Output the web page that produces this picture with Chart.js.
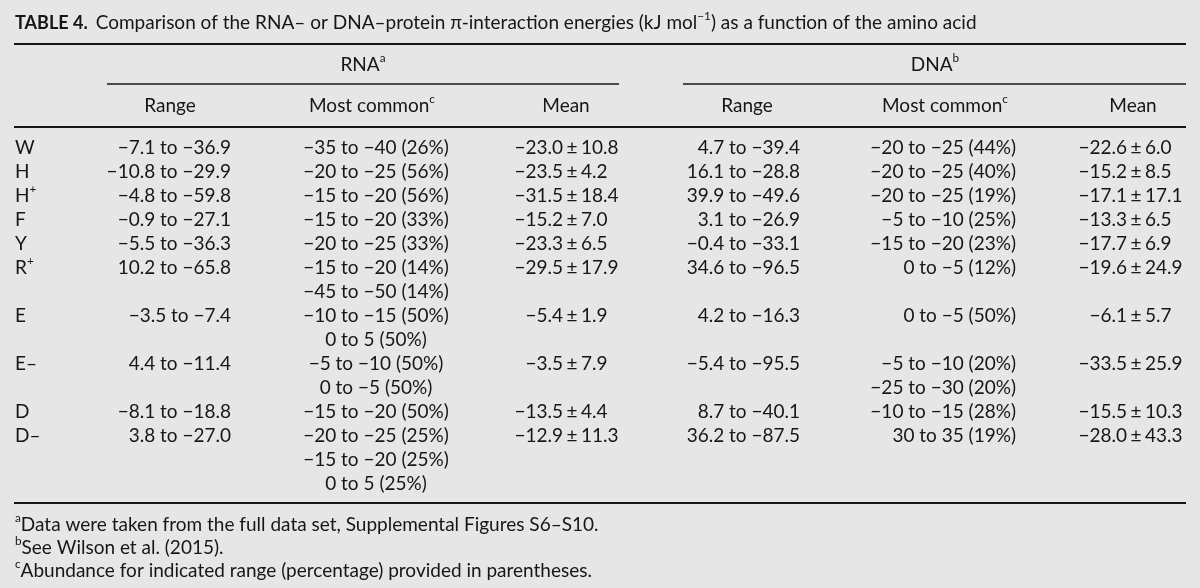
<!DOCTYPE html>
<html>
<head>
<meta charset="utf-8">
<title>Table 4</title>
<script src="https://cdn.jsdelivr.net/npm/chart.js@4"></script>
<style>
    html, body { margin: 0; padding: 0; background: #e6e6e6; }
    #wrap { width: 1200px; height: 588px; }
</style>
</head>
<body>
<div id="wrap"><canvas id="energyTable" width="1200" height="588"></canvas></div>
<script>
// Table content
const caption = ['TABLE 4.', 'Comparison of the RNA– or DNA–protein π-interaction energies (kJ mol^{−1}) as a function of the amino acid'];
const groupLabels = ['RNA^{a}', 'DNA^{b}'];
const columnLabels = ['Range', 'Most common^{c}', 'Mean'];
const aminoAcids = ['W', 'H', 'H^{+}', 'F', 'Y', 'R^{+}', 'E', 'E–', 'D', 'D–'];

// [from, to] in kJ/mol
const rnaRange = [[-7.1, -36.9], [-10.8, -29.9], [-4.8, -59.8], [-0.9, -27.1], [-5.5, -36.3],
                  [10.2, -65.8], [-3.5, -7.4], [4.4, -11.4], [-8.1, -18.8], [3.8, -27.0]];
const dnaRange = [[4.7, -39.4], [16.1, -28.8], [39.9, -49.6], [3.1, -26.9], [-0.4, -33.1],
                  [34.6, -96.5], [4.2, -16.3], [-5.4, -95.5], [8.7, -40.1], [36.2, -87.5]];

// most common bins: [from, to, percent]
const rnaCommon = [
    [[-35, -40, 26]],
    [[-20, -25, 56]],
    [[-15, -20, 56]],
    [[-15, -20, 33]],
    [[-20, -25, 33]],
    [[-15, -20, 14], [-45, -50, 14]],
    [[-10, -15, 50], [0, 5, 50]],
    [[-5, -10, 50], [0, -5, 50]],
    [[-15, -20, 50]],
    [[-20, -25, 25], [-15, -20, 25], [0, 5, 25]]
];
const dnaCommon = [
    [[-20, -25, 44]],
    [[-20, -25, 40]],
    [[-20, -25, 19]],
    [[-5, -10, 25]],
    [[-15, -20, 23]],
    [[0, -5, 12]],
    [[0, -5, 50]],
    [[-5, -10, 20], [-25, -30, 20]],
    [[-10, -15, 28]],
    [[30, 35, 19]]
];

// [mean, sd]
const rnaMean = [[-23.0, 10.8], [-23.5, 4.2], [-31.5, 18.4], [-15.2, 7.0], [-23.3, 6.5],
                 [-29.5, 17.9], [-5.4, 1.9], [-3.5, 7.9], [-13.5, 4.4], [-12.9, 11.3]];
const dnaMean = [[-22.6, 6.0], [-15.2, 8.5], [-17.1, 17.1], [-13.3, 6.5], [-17.7, 6.9],
                 [-19.6, 24.9], [-6.1, 5.7], [-33.5, 25.9], [-15.5, 10.3], [-28.0, 43.3]];

const footnotes = [
    '^{a}Data were taken from the full data set, Supplemental Figures S6–S10.',
    '^{b}See Wilson et al. (2015).',
    '^{c}Abundance for indicated range (percentage) provided in parentheses.'
];

const FONT = 'Lato, "Open Sans", sans-serif';
const INK = '#161616';

const fmt = (v, d) => (v < 0 ? '−' : '') + Math.abs(v).toFixed(d);
const rangeText = r => fmt(r[0], 1) + ' to ' + fmt(r[1], 1);
const binText = b => fmt(b[0], 0) + ' to ' + fmt(b[1], 0) + ' (' + b[2] + '%)';

// split 'abc^{x}def' into [text, isSup] pieces
function pieces(str) {
    const out = [];
    const re = /\^\{([^}]*)\}/g;
    let last = 0, m;
    while ((m = re.exec(str)) !== null) {
        if (m.index > last) out.push([str.slice(last, m.index), false]);
        out.push([m[1], true]);
        last = re.lastIndex;
    }
    if (last < str.length) out.push([str.slice(last), false]);
    return out;
}

function drawRich(ctx, str, x, y, align, size, weight) {
    const parts = pieces(str);
    const widths = parts.map(p => {
        ctx.font = (weight || '') + ' ' + (p[1] ? size * 0.62 : size) + 'px ' + FONT;
        return ctx.measureText(p[0]).width;
    });
    const total = widths.reduce((a, b) => a + b, 0);
    let cx = align === 'center' ? x - total / 2 : align === 'right' ? x - total : x;
    ctx.textAlign = 'left';
    ctx.textBaseline = 'middle';
    parts.forEach((p, i) => {
        ctx.font = (weight || '') + ' ' + (p[1] ? size * 0.62 : size) + 'px ' + FONT;
        ctx.fillText(p[0], cx, p[1] ? y - size * 0.38 : y);
        cx += widths[i];
    });
    return total;
}

const tablePlugin = {
    id: 'tablePlugin',
    afterDraw(chart) {
        const ctx = chart.ctx;
        const X = v => chart.scales.x.getPixelForValue(v);
        const Y = v => chart.scales.y.getPixelForValue(v);
        const size = 19;
        const lineH = 24;
        ctx.save();
        ctx.fillStyle = INK;
        ctx.strokeStyle = INK;

        const rule = (x0, x1, y, w) => {
            ctx.lineWidth = w;
            ctx.beginPath();
            ctx.moveTo(X(x0), Y(y));
            ctx.lineTo(X(x1), Y(y));
            ctx.stroke();
        };

        // caption
        const capW = drawRich(ctx, caption[0], X(15), Y(23), 'left', 18, 'bold');
        drawRich(ctx, caption[1], X(15) + capW + 8, Y(23), 'left', size);
        rule(14, 1186, 44, 2);

        // group headers
        drawRich(ctx, groupLabels[0], X(363), Y(65), 'center', size);
        drawRich(ctx, groupLabels[1], X(935), Y(65), 'center', size);
        rule(107, 619, 84, 1.6);
        rule(683, 1186, 84, 1.6);

        // column headers
        const headX = [170, 372, 566, 747, 945, 1133];
        headX.forEach((hx, i) => drawRich(ctx, columnLabels[i % 3], X(hx), Y(106), 'center', size));
        rule(14, 1186, 127, 2);

        // body
        const drawMean = (m, pm, y) => {
            ctx.font = size + 'px ' + FONT;
            ctx.textBaseline = 'middle';
            ctx.textAlign = 'right';
            ctx.fillText(fmt(m[0], 1), X(pm) - 9, Y(y));
            ctx.textAlign = 'center';
            ctx.fillText('±', X(pm), Y(y));
            ctx.textAlign = 'left';
            ctx.fillText(fmt(m[1], 1), X(pm) + 9, Y(y));
        };

        let line = 0;
        aminoAcids.forEach((aa, r) => {
            const y = 148 + line * lineH;
            drawRich(ctx, aa, X(15), Y(y), 'left', size);
            ctx.font = size + 'px ' + FONT;
            ctx.textBaseline = 'middle';
            ctx.textAlign = 'right';
            ctx.fillText(rangeText(rnaRange[r]), X(231), Y(y));
            ctx.fillText(rangeText(dnaRange[r]), X(800), Y(y));
            rnaCommon[r].forEach((b, k) => {
                ctx.textAlign = 'center';
                ctx.fillText(binText(b), X(376), Y(y + k * lineH));
            });
            dnaCommon[r].forEach((b, k) => {
                ctx.textAlign = 'right';
                ctx.fillText(binText(b), X(1016), Y(y + k * lineH));
            });
            drawMean(rnaMean[r], 572, y);
            drawMean(dnaMean[r], 1136, y);
            line += Math.max(1, rnaCommon[r].length, dnaCommon[r].length);
        });

        const bottom = 148 + (line - 1) * lineH + 19;
        rule(14, 1186, bottom, 2);

        footnotes.forEach((f, i) => drawRich(ctx, f, X(15), Y(bottom + 22 + i * 23), 'left', size));
        ctx.restore();
    }
};

new Chart(document.getElementById('energyTable'), {
    type: 'scatter',
    data: { datasets: [{ data: [], pointRadius: 0 }] },
    options: {
        responsive: false,
        animation: false,
        devicePixelRatio: 1,
        layout: { padding: 0 },
        plugins: { legend: { display: false }, tooltip: { enabled: false } },
        scales: {
            x: { type: 'linear', min: 0, max: 1200, display: false },
            y: { type: 'linear', min: 0, max: 588, reverse: true, display: false }
        }
    },
    plugins: [tablePlugin]
});
</script>
</body>
</html>
